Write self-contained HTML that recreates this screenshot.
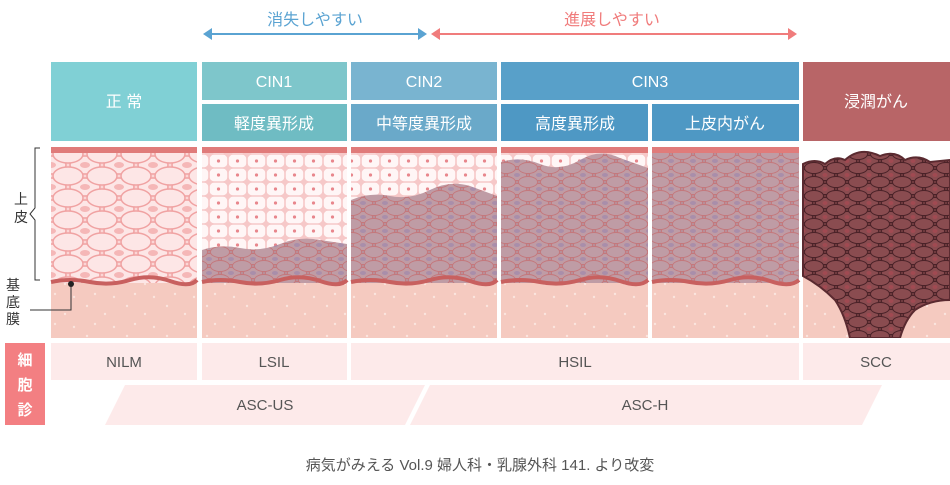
<!DOCTYPE html>
<html><head><meta charset="utf-8"><style>
body{margin:0;width:950px;height:480px;background:#fff;overflow:hidden;font-family:"Liberation Sans","Noto Sans CJK JP",sans-serif}
</style></head><body>
<svg width="950" height="480" viewBox="0 0 950 480" xmlns="http://www.w3.org/2000/svg" font-family="Liberation Sans, Noto Sans CJK JP, sans-serif">
<defs>
<pattern id="norm" width="34" height="22" patternUnits="userSpaceOnUse">
<rect width="34" height="22" fill="#fbd6d6"/>
<ellipse cx="17" cy="11" rx="15" ry="9" fill="#fde6e6" stroke="#f0a2a2" stroke-width="1.5"/>
<ellipse cx="17" cy="11" rx="5" ry="3" fill="#f5b7b7"/>
<ellipse cx="0" cy="0" rx="15" ry="9" fill="#fde6e6" stroke="#f0a2a2" stroke-width="1.5"/>
<ellipse cx="34" cy="0" rx="15" ry="9" fill="#fde6e6" stroke="#f0a2a2" stroke-width="1.5"/>
<ellipse cx="0" cy="22" rx="15" ry="9" fill="#fde6e6" stroke="#f0a2a2" stroke-width="1.5"/>
<ellipse cx="34" cy="22" rx="15" ry="9" fill="#fde6e6" stroke="#f0a2a2" stroke-width="1.5"/>
</pattern>
<pattern id="light" width="19" height="14" patternUnits="userSpaceOnUse">
<rect width="19" height="14" fill="#f6c8c8"/>
<rect x="0.8" y="0.8" width="17.4" height="12.4" rx="4" fill="#fff6f6"/>
<circle cx="9.5" cy="7" r="1.6" fill="#e8868c"/>
</pattern>
<pattern id="dys" width="22" height="14" patternUnits="userSpaceOnUse">
<rect width="22" height="14" fill="#b88e98"/>
<ellipse cx="11" cy="7" rx="9.5" ry="5.5" fill="#bf9ca5" stroke="#c4777b" stroke-width="0.9"/>
<ellipse cx="11" cy="7" rx="3" ry="2" fill="#a98eaa"/>
<ellipse cx="0" cy="0" rx="9.5" ry="5.5" fill="#bf9ca5" stroke="#c4777b" stroke-width="0.9"/>
<ellipse cx="22" cy="14" rx="9.5" ry="5.5" fill="#bf9ca5" stroke="#c4777b" stroke-width="0.9"/>
<ellipse cx="22" cy="0" rx="9.5" ry="5.5" fill="#bf9ca5" stroke="#c4777b" stroke-width="0.9"/>
<ellipse cx="0" cy="14" rx="9.5" ry="5.5" fill="#bf9ca5" stroke="#c4777b" stroke-width="0.9"/>
</pattern>
<pattern id="scc" width="22" height="14" patternUnits="userSpaceOnUse">
<rect width="22" height="14" fill="#6e3a3e"/>
<ellipse cx="11" cy="7" rx="9.5" ry="5.5" fill="#8a4c50" stroke="#4a2228" stroke-width="1"/>
<ellipse cx="11" cy="7" rx="2.5" ry="2" fill="#a04a52"/>
<ellipse cx="0" cy="0" rx="9.5" ry="5.5" fill="#8a4c50" stroke="#4a2228" stroke-width="1"/>
<ellipse cx="22" cy="14" rx="9.5" ry="5.5" fill="#8a4c50" stroke="#4a2228" stroke-width="1"/>
<ellipse cx="22" cy="0" rx="9.5" ry="5.5" fill="#8a4c50" stroke="#4a2228" stroke-width="1"/>
<ellipse cx="0" cy="14" rx="9.5" ry="5.5" fill="#8a4c50" stroke="#4a2228" stroke-width="1"/>
</pattern>
<pattern id="strom" width="40" height="30" patternUnits="userSpaceOnUse">
<rect width="40" height="30" fill="#f5cac0"/>
<circle cx="7" cy="6" r="1.2" fill="#fbe4de"/><circle cx="25" cy="14" r="1.2" fill="#fbe4de"/><circle cx="15" cy="24" r="1.2" fill="#fbe4de"/><circle cx="34" cy="27" r="1.2" fill="#fbe4de"/>
</pattern>
</defs>

<text x="315" y="25" font-size="16" fill="#5aa3d2" text-anchor="middle">消失しやすい</text>
<line x1="208" y1="34" x2="422" y2="34" stroke="#5aa3d2" stroke-width="2"/>
<path d="M203 34 L212 28 L212 40Z" fill="#5aa3d2"/><path d="M427 34 L418 28 L418 40Z" fill="#5aa3d2"/>
<text x="612" y="25" font-size="16" fill="#f07c7c" text-anchor="middle">進展しやすい</text>
<line x1="436" y1="34" x2="792" y2="34" stroke="#f07c7c" stroke-width="2"/>
<path d="M431 34 L440 28 L440 40Z" fill="#f07c7c"/><path d="M797 34 L788 28 L788 40Z" fill="#f07c7c"/>

<g font-size="16" fill="#fff" text-anchor="middle">
<rect x="51" y="62" width="146" height="79" fill="#80d0d5"/><text x="124" y="107">正 常</text>
<rect x="202" y="62" width="145" height="38" fill="#7ec6cb"/><text x="274" y="87">CIN1</text>
<rect x="202" y="104" width="145" height="37" fill="#6fbcc3"/><text x="274" y="129">軽度異形成</text>
<rect x="351" y="62" width="146" height="38" fill="#79b4d0"/><text x="424" y="87">CIN2</text>
<rect x="351" y="104" width="146" height="37" fill="#6aa9c9"/><text x="424" y="129">中等度異形成</text>
<rect x="501" y="62" width="298" height="38" fill="#58a0c9"/><text x="650" y="87">CIN3</text>
<rect x="501" y="104" width="147" height="37" fill="#4e98c4"/><text x="575" y="129">高度異形成</text>
<rect x="652" y="104" width="147" height="37" fill="#4e98c4"/><text x="725" y="129">上皮内がん</text>
<rect x="803" y="62" width="147" height="79" fill="#b86567"/><text x="876" y="107">浸潤がん</text>
</g>

<g>
<rect x="51" y="280" width="146" height="58" fill="url(#strom)"/>
<rect x="202" y="280" width="145" height="58" fill="url(#strom)"/>
<rect x="351" y="280" width="146" height="58" fill="url(#strom)"/>
<rect x="501" y="280" width="147" height="58" fill="url(#strom)"/>
<rect x="652" y="280" width="147" height="58" fill="url(#strom)"/>
<rect x="803" y="270" width="147" height="68" fill="url(#strom)"/>
<rect x="51" y="153" width="146" height="130" fill="url(#norm)"/>
<rect x="202" y="153" width="145" height="130" fill="url(#light)"/>
<path d="M202 250 Q220 244 240 248 T280 244 T320 240 L347 244 L347 283 L202 283Z" fill="url(#dys)"/>
<rect x="351" y="153" width="146" height="130" fill="url(#light)"/>
<path d="M351 200 Q370 192 390 196 T430 190 T470 186 L497 196 L497 283 L351 283Z" fill="url(#dys)"/>
<rect x="501" y="153" width="147" height="130" fill="url(#light)"/>
<path d="M501 162 Q520 156 540 164 T580 160 T620 158 L648 168 L648 283 L501 283Z" fill="url(#dys)"/>
<rect x="652" y="153" width="147" height="130" fill="url(#dys)"/>
<g fill="none" stroke="#c8605f" stroke-width="4">
<path d="M51 282 Q70 278 90 282 T130 280 T170 281 T197 280"/>
<path d="M202 282 Q220 278 240 282 T280 280 T320 281 T347 280"/>
<path d="M351 282 Q370 278 390 282 T430 280 T470 281 T497 280"/>
<path d="M501 282 Q520 278 540 282 T580 280 T620 281 T648 280"/>
<path d="M652 282 Q670 278 690 282 T730 280 T770 281 T799 280"/>
</g>
<rect x="51" y="147" width="146" height="6" fill="#e07b7a"/>
<rect x="202" y="147" width="145" height="6" fill="#e07b7a"/>
<rect x="351" y="147" width="146" height="6" fill="#e07b7a"/>
<rect x="501" y="147" width="147" height="6" fill="#e07b7a"/>
<rect x="652" y="147" width="147" height="6" fill="#e07b7a"/>
<path d="M803 164 Q815 158 825 164 Q835 155 845 160 Q860 146 880 156 Q895 150 905 160 Q918 154 930 162 L950 160 L950 300 Q930 300 915 310 Q905 320 900 338 L850 338 Q845 315 835 300 Q820 285 803 276Z" fill="url(#scc)" stroke="#5a2a30" stroke-width="2"/>
<line x1="49" y1="340" x2="950" y2="340" stroke="#fff" stroke-width="4"/>
</g>

<path d="M40 148 L35 148 L35 208 L30 214 L35 220 L35 280 L40 280" fill="none" stroke="#333" stroke-width="1"/>
<text x="14" y="204" font-size="14" fill="#333">上</text>
<text x="14" y="222" font-size="14" fill="#333">皮</text>
<text x="6" y="290" font-size="14" fill="#333">基</text>
<text x="6" y="307" font-size="14" fill="#333">底</text>
<text x="6" y="324" font-size="14" fill="#333">膜</text>
<path d="M30 310 L71 310 L71 284" fill="none" stroke="#333" stroke-width="1"/>
<circle cx="71" cy="284" r="3" fill="#222"/>

<rect x="5" y="343" width="40" height="82" fill="#f37f82"/>
<g fill="#fff" font-size="15" text-anchor="middle" font-weight="bold"><text x="25" y="365">細</text><text x="25" y="390">胞</text><text x="25" y="415">診</text></g>
<g fill="#fdeaea">
<rect x="51" y="343" width="146" height="37"/>
<rect x="202" y="343" width="145" height="37"/>
<rect x="351" y="343" width="448" height="37"/>
<rect x="803" y="343" width="147" height="37"/>
<path d="M125 385 L425 385 L405 425 L105 425Z"/>
<path d="M430 385 L882 385 L862 425 L410 425Z"/>
</g>
<g fill="#555" font-size="15" text-anchor="middle">
<text x="124" y="367">NILM</text><text x="274" y="367">LSIL</text><text x="575" y="367">HSIL</text><text x="876" y="367">SCC</text>
<text x="265" y="410">ASC-US</text><text x="645" y="410">ASC-H</text>
</g>
<text x="480" y="470" font-size="15" fill="#555" text-anchor="middle">病気がみえる Vol.9 婦人科・乳腺外科 141. より改変</text>
</svg>
</body></html>
